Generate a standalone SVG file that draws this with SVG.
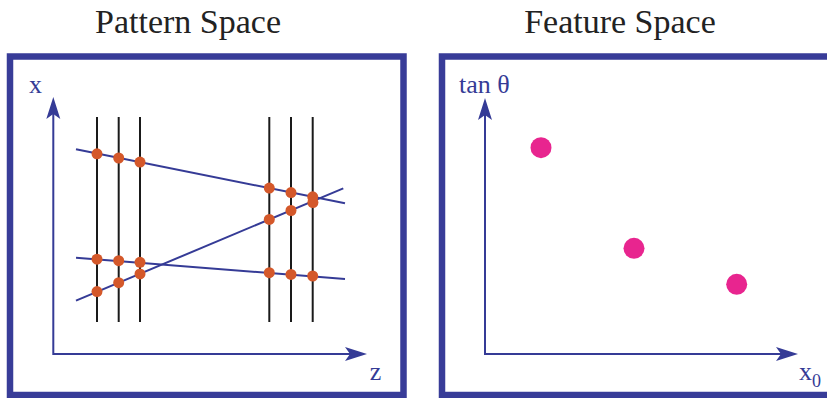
<svg xmlns="http://www.w3.org/2000/svg" width="827" height="398" viewBox="0 0 827 398">
<defs>
<style>
.title{font-family:"Liberation Serif","Times New Roman",serif;font-size:34px;fill:#222}
.lbl{font-family:"Liberation Serif","Times New Roman",serif;font-size:26px;fill:#353b96}
.frame{fill:none;stroke:#383c98;stroke-width:6.5}
.axis{fill:none;stroke:#353b96;stroke-width:2}
.blue{fill:none;stroke:#353b96;stroke-width:2}
.blk{fill:none;stroke:#1a1a1a;stroke-width:2}
.dot{fill:#d4582a}
.mag{fill:#e8258f}
</style>
<marker id="arr" markerUnits="userSpaceOnUse" markerWidth="24" markerHeight="16" viewBox="-23 -8 24 16" refX="-17" refY="0" orient="auto-start-reverse">
<path d="M0,0 L-22,-7 L-17,0 L-22,7 Z" fill="#353b96"/>
</marker>
</defs>
<rect width="827" height="398" fill="#fff"/>
<text class="title" x="188" y="33" text-anchor="middle">Pattern Space</text>
<text class="title" x="620" y="33" text-anchor="middle">Feature Space</text>
<g id="pattern-space">
<rect class="frame" x="10" y="56.5" width="393.5" height="338.5"/>
<text class="lbl" x="35.5" y="93" text-anchor="middle">x</text>
<text class="lbl" x="375.5" y="380" text-anchor="middle">z</text>
<g id="measurement-planes">
<line class="blk" x1="97" y1="117" x2="97" y2="322"/>
<line class="blk" x1="118.7" y1="117" x2="118.7" y2="322"/>
<line class="blk" x1="140" y1="117" x2="140" y2="322"/>
<line class="blk" x1="269.3" y1="117" x2="269.3" y2="322"/>
<line class="blk" x1="291" y1="117" x2="291" y2="322"/>
<line class="blk" x1="312.7" y1="117" x2="312.7" y2="322"/>
</g>
<g id="tracks">
<line class="blue" x1="76" y1="149.3" x2="345" y2="203.3"/>
<line class="blue" x1="76" y1="257.7" x2="345" y2="279"/>
<line class="blue" x1="76" y1="300.7" x2="343.3" y2="188.3"/>
</g>
<g id="hits">
<circle class="dot" cx="97" cy="153.8" r="5.5"/>
<circle class="dot" cx="118.7" cy="158" r="5.5"/>
<circle class="dot" cx="140" cy="162.1" r="5.5"/>
<circle class="dot" cx="269.3" cy="188.1" r="5.5"/>
<circle class="dot" cx="291" cy="192.6" r="5.5"/>
<circle class="dot" cx="312.7" cy="196.8" r="5.5"/>
<circle class="dot" cx="97" cy="259.2" r="5.5"/>
<circle class="dot" cx="118.7" cy="260.7" r="5.5"/>
<circle class="dot" cx="140" cy="262.3" r="5.5"/>
<circle class="dot" cx="269.3" cy="272.7" r="5.5"/>
<circle class="dot" cx="291" cy="274.4" r="5.5"/>
<circle class="dot" cx="312.7" cy="276" r="5.5"/>
<circle class="dot" cx="97" cy="291.6" r="5.5"/>
<circle class="dot" cx="118.7" cy="282.7" r="5.5"/>
<circle class="dot" cx="140" cy="273.9" r="5.5"/>
<circle class="dot" cx="269.3" cy="219.4" r="5.5"/>
<circle class="dot" cx="291" cy="210.5" r="5.5"/>
<circle class="dot" cx="312.9" cy="202.5" r="5.5"/>
</g>
</g>
<g id="feature-space">
<rect class="frame" x="442" y="56.5" width="392" height="338.5"/>
<text class="lbl" x="459" y="92.5" font-size="27">tan θ</text>
<text class="lbl" x="799" y="380">x<tspan font-size="18" dy="7">0</tspan></text>
<circle class="mag" cx="541" cy="147.7" r="10.5"/>
<circle class="mag" cx="634" cy="248.3" r="10.5"/>
<circle class="mag" cx="736.7" cy="284.3" r="10.5"/>
</g>
<g id="connectors">
<polyline class="axis" points="53.3,114 53.3,354 350,354" marker-start="url(#arr)" marker-end="url(#arr)"/>
<polyline class="axis" points="485,115 485,354 781,354" marker-start="url(#arr)" marker-end="url(#arr)"/>
</g>
</svg>
